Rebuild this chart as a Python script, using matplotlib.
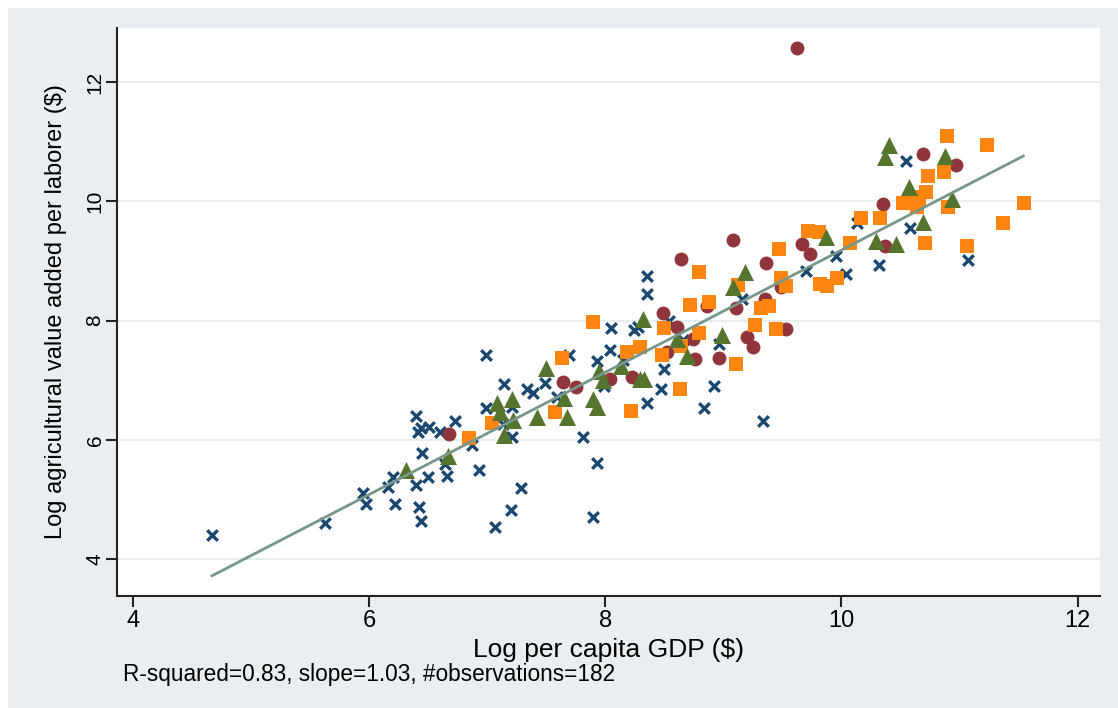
import numpy as np
import matplotlib
matplotlib.use("Agg")
import matplotlib.pyplot as plt
from matplotlib.patches import Rectangle

plt.rcParams["font.family"] = ["Liberation Sans", "DejaVu Sans"]

# ---- data (log per-capita GDP, log ag. value added per laborer)
cross_x = [4.67, 5.63, 5.95, 5.97, 6.16, 6.20, 6.22, 6.40, 6.41, 6.44, 6.51, 6.60,
           6.45, 6.50, 6.40, 6.42, 6.44, 6.73, 6.64, 6.66, 6.87, 6.93, 6.99, 6.99,
           7.07, 7.20, 7.29, 7.13, 7.14, 7.21, 7.21, 7.34, 7.39, 7.49, 7.59, 7.69,
           7.81, 7.93, 7.90, 7.93, 7.99, 8.04, 8.05, 8.15, 8.24, 8.28, 8.35, 8.35,
           8.35, 8.47, 8.50, 8.54, 8.66, 8.84, 8.92, 8.96, 9.16, 9.34, 9.70, 9.95,
           10.04, 10.13, 10.32, 10.58, 10.55, 11.07]
cross_y = [4.41, 4.60, 5.11, 4.92, 5.21, 5.37, 4.93, 6.40, 6.13, 6.20, 6.22, 6.13,
           5.78, 5.38, 5.24, 4.88, 4.64, 6.32, 5.59, 5.40, 5.91, 5.49, 6.53, 7.43,
           4.54, 4.83, 5.19, 6.27, 6.93, 6.55, 6.05, 6.86, 6.79, 6.95, 6.72, 7.43,
           6.04, 5.61, 4.70, 7.33, 6.90, 7.51, 7.87, 7.34, 7.84, 7.89, 8.75, 8.45,
           6.61, 6.86, 7.18, 8.00, 7.67, 6.53, 6.90, 7.61, 8.36, 6.32, 8.84, 9.08,
           8.79, 9.63, 8.94, 9.56, 10.68, 9.01]

tri_x = [6.31, 6.67, 7.08, 7.11, 7.21, 7.22, 7.14, 7.42, 7.50, 7.65, 7.68, 7.90,
         7.93, 7.95, 7.98, 8.13, 8.29, 8.33, 8.32, 8.61, 8.69, 8.99, 9.08, 9.18,
         9.87, 10.29, 10.46, 10.37, 10.40, 10.88, 10.57, 10.69, 10.94]
tri_y = [5.49, 5.73, 6.62, 6.47, 6.68, 6.34, 6.08, 6.39, 7.20, 6.71, 6.38, 6.69,
         6.55, 7.15, 7.00, 7.24, 7.02, 7.02, 8.02, 7.70, 7.40, 7.76, 8.56, 8.81,
         9.41, 9.33, 9.28, 10.75, 10.95, 10.76, 10.25, 9.65, 10.04]

circ_x = [6.68, 7.64, 7.75, 8.04, 8.23, 8.49, 8.52, 8.61, 8.64, 8.74, 8.76, 8.86,
          8.96, 9.08, 9.11, 9.20, 9.25, 9.35, 9.36, 9.49, 9.53, 9.62, 9.67, 9.73,
          10.35, 10.37, 10.69, 10.97]
circ_y = [6.10, 6.97, 6.88, 7.02, 7.05, 8.13, 7.47, 7.89, 9.03, 7.70, 7.35, 8.25,
          7.37, 9.35, 8.22, 7.73, 7.55, 8.37, 8.96, 8.57, 7.86, 12.58, 9.29, 9.11,
          9.95, 9.26, 10.80, 10.61]

sq_x = [6.85, 7.04, 7.57, 7.63, 7.90, 8.18, 8.29, 8.22, 8.48, 8.50, 8.63, 8.64,
        8.72, 8.79, 8.79, 8.88, 9.11, 9.12, 9.27, 9.32, 9.39, 9.45, 9.47, 9.49,
        9.53, 9.72, 9.81, 9.82, 9.88, 9.96, 10.07, 10.17, 10.33, 10.52, 10.64,
        10.66, 10.64, 10.72, 10.73, 10.71, 10.87, 10.89, 10.90, 11.06, 11.23,
        11.37, 11.55]
sq_y = [6.03, 6.29, 6.47, 7.38, 7.98, 7.47, 7.55, 6.49, 7.43, 7.87, 6.85, 7.57,
        8.26, 8.82, 7.80, 8.32, 7.28, 8.60, 7.92, 8.21, 8.25, 7.86, 9.20, 8.71,
        8.58, 9.50, 9.48, 8.61, 8.58, 8.72, 9.30, 9.73, 9.72, 9.98, 10.07,
        10.00, 9.91, 10.15, 10.42, 9.30, 10.50, 11.09, 9.91, 9.26, 10.94,
        9.63, 9.98]

fit_x = [4.67, 11.54]
fit_intercept = -1.067
fit_slope = 1.025

x_ticks = [4, 6, 8, 10, 12]
y_ticks = [4, 6, 8, 10, 12]
note = "R-squared=0.83, slope=1.03, #observations=182"

# ---- plot ------------------------------------------------------------------
BG = "#e8eef1"
fig = plt.figure(figsize=(11.18, 7.08), dpi=100, facecolor=BG)
# thin white frame at top/left like the screenshot
fig.patches.append(Rectangle((0, 0.99), 1, 0.01, transform=fig.transFigure,
                             color="white", zorder=-1))
fig.patches.append(Rectangle((0, 0), 0.006, 1, transform=fig.transFigure,
                             color="white", zorder=-1))

ax = fig.add_axes([0.1047, 0.1582, 0.8792, 0.8023])
ax.set_facecolor("white")

ax.scatter(cross_x, cross_y, marker="x", s=58, linewidths=2.4, color="#1a476f", zorder=3)
ax.scatter(circ_x, circ_y, marker="o", s=100, color="#90353b", linewidths=0, zorder=3)
ax.scatter(sq_x, sq_y, marker="s", s=110, color="#ff8511", linewidths=0, zorder=4)
ax.scatter(tri_x, tri_y, marker="^", s=150, color="#55752f", linewidths=0, zorder=5)

fx = np.array(fit_x)
ax.plot(fx, fit_intercept + fit_slope * fx, color="#76978a", lw=2.0, zorder=6)

ax.set_xlim(3.865, 12.19)
ax.set_ylim(3.38, 12.91)
ax.set_xticks(x_ticks)
ax.set_yticks(y_ticks)
ax.set_xticklabels([str(t) for t in x_ticks], fontsize=17)
ax.set_yticklabels([str(t) for t in y_ticks], fontsize=15, rotation=90, va="center")
ax.tick_params(direction="out", length=8, width=1.5, color="#222222")
ax.tick_params(axis="x", pad=2)
ax.tick_params(axis="y", pad=1)
ax.grid(axis="y", color="#e6eef0", lw=1.6, zorder=0)
ax.set_axisbelow(True)

for s in ("top", "right"):
    ax.spines[s].set_visible(False)
for s in ("left", "bottom"):
    ax.spines[s].set_linewidth(1.5)
    ax.spines[s].set_color("#222222")

ax.set_xlabel("Log per capita GDP ($)", fontsize=19, va="center")
ax.xaxis.set_label_coords(0.5, -(650 - 596) / 568)
ax.set_ylabel("Log agricultural value added per laborer ($)", fontsize=17, va="center")
ax.yaxis.set_label_coords((56 - 117) / 983, 0.5)

fig.text(123 / 1118, 1 - 675 / 708, note, fontsize=16.3, va="center", ha="left")

fig.savefig("out.png", dpi=100, facecolor=BG)
